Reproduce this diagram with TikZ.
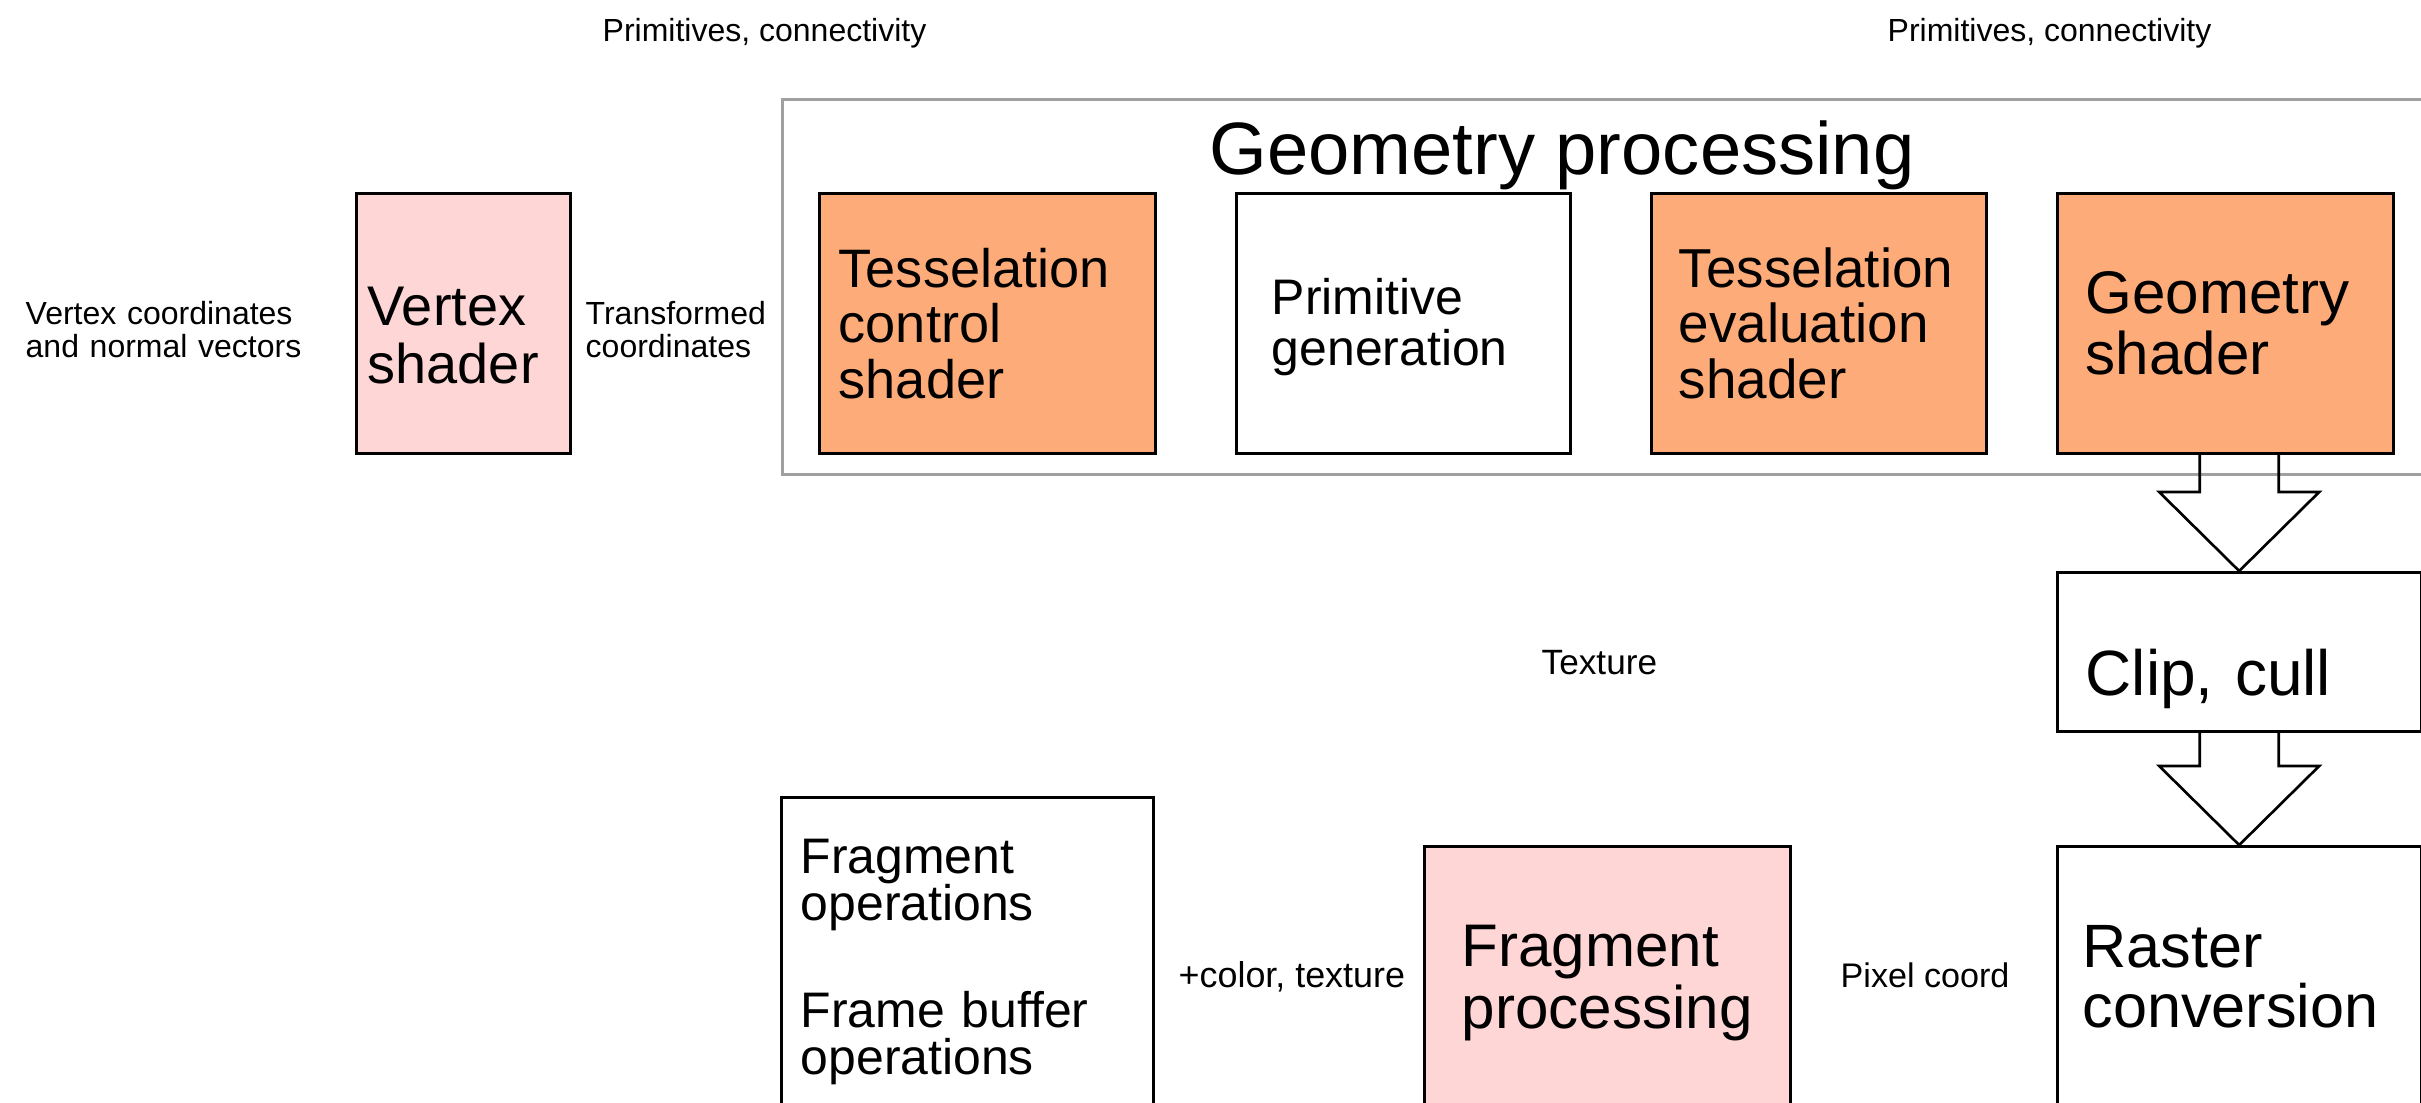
\documentclass[tikz,border=0pt]{standalone}
\usepackage{fontspec}
\setmainfont{Liberation Sans}
\usetikzlibrary{calc}
\definecolor{pinkfill}{RGB}{255,214,214}
\definecolor{orangefill}{RGB}{253,171,121}
\definecolor{framegray}{RGB}{160,160,160}
\newcommand{\fsz}[2]{\fontsize{#1}{#2}\selectfont}
\begin{document}
\begin{tikzpicture}[x=0.01cm,y=-0.01cm,
  blk/.style={draw=black, line width=0.75pt, rectangle, inner sep=0pt, anchor=north west},
  txt/.style={inner sep=0pt, anchor=base west, align=left, text width=4cm},
  lbl/.style={inner sep=0pt, anchor=base west, font=\fsz{9.1pt}{9.4pt}},
  blockarrow/.style={draw=black, line width=0.75pt, line join=miter}]
\useasboundingbox (0,0) rectangle (2421,1102);
\clip (0,0) rectangle (2421,1102);

% top labels
\node[lbl] (prim1) at (602,41) {Primitives, connectivity};
\node[lbl] (prim2) at (1887,41) {Primitives, connectivity};

% left labels
\node[lbl, align=left, text width=4cm] (vin) at (25,324) {Vertex coordinates\\and normal vectors};
\node[lbl, align=left, text width=3cm] (vout) at (585,324) {Transformed\\coordinates};

% vertex shader
\node[blk, fill=pinkfill, minimum width=2.14cm, minimum height=2.60cm] (vs) at (355,192) {};
\node[txt, font=\fsz{15.9pt}{16.5pt}] (vst) at (367,325) {Vertex\\shader};

% geometry processing frame
\node[draw=framegray, line width=0.8pt, rectangle, inner sep=0pt, anchor=north west,
      minimum width=17cm, minimum height=3.75cm] (geo) at (781,98) {};
\node[inner sep=0pt, anchor=base, font=\fsz{21.1pt}{22pt}] (geot) at (1562,174) {Geometry processing};

\node[blk, fill=orangefill, minimum width=3.36cm, minimum height=2.60cm] (tcs) at (818,192) {};
\node[txt, font=\fsz{15.4pt}{15.9pt}] (tcst) at (838,287) {Tesselation\\control\\shader};

\node[blk, fill=white, minimum width=3.34cm, minimum height=2.60cm] (pg) at (1235,192) {};
\node[txt, font=\fsz{14.2pt}{14.5pt}] (pgt) at (1271,314) {Primitive\\generation};

\node[blk, fill=orangefill, minimum width=3.35cm, minimum height=2.60cm] (tes) at (1650,192) {};
\node[txt, font=\fsz{15.6pt}{15.9pt}] (test) at (1678,287) {Tesselation\\evaluation\\shader};

\node[blk, fill=orangefill, minimum width=3.36cm, minimum height=2.60cm] (gs) at (2056,192) {};
\node[txt, font=\fsz{17.1pt}{17.6pt}] (gst) at (2085,313) {Geometry\\shader};

% clip, cull
\node[blk, fill=white, minimum width=3.635cm, minimum height=1.59cm] (cc) at (2056,571) {};
\node[txt, font=\fsz{18.2pt}{19pt}] (cct) at (2085,695) {Clip, cull};

% raster conversion
\node[blk, fill=white, minimum width=3.635cm, minimum height=3.2cm] (rs) at (2056,845) {};
\node[txt, font=\fsz{17.4pt}{17.1pt}] (rst) at (2082,967) {Raster\\conversion};

% fragment processing
\node[blk, fill=pinkfill, minimum width=3.66cm, minimum height=3.2cm] (fp) at (1423,845) {};
\node[txt, font=\fsz{17.1pt}{17.9pt}] (fpt) at (1461,966) {Fragment\\processing};

% fragment operations
\node[blk, fill=white, minimum width=3.72cm, minimum height=3.6cm] (fo) at (780,796) {};
\node[txt, font=\fsz{14.2pt}{13.4pt}] (fot) at (800,873) {Fragment\\operations\\[0.597cm]Frame buffer\\operations};

% middle labels
\node[lbl, font=\fsz{10pt}{10.5pt}] (tex) at (1541,674) {Texture};
\node[lbl, font=\fsz{10.2pt}{10.7pt}] (col) at (1178,987) {+color, texture};
\node[lbl, font=\fsz{9.7pt}{10.2pt}] (pix) at (1840,987) {Pixel coord};

% block arrows
\draw[blockarrow] ([shift={(-39.5,-119)}]cc.north) -- ++(0,40) -- ++(-40.5,0) -- (cc.north)
   -- ++(80,-79) -- ++(-40.5,0) -- ++(0,-40);
\draw[blockarrow] ([shift={(-39.5,-115)}]rs.north) -- ++(0,36) -- ++(-40.5,0) -- (rs.north)
   -- ++(80,-79) -- ++(-40.5,0) -- ++(0,-36);
\end{tikzpicture}
\end{document}
